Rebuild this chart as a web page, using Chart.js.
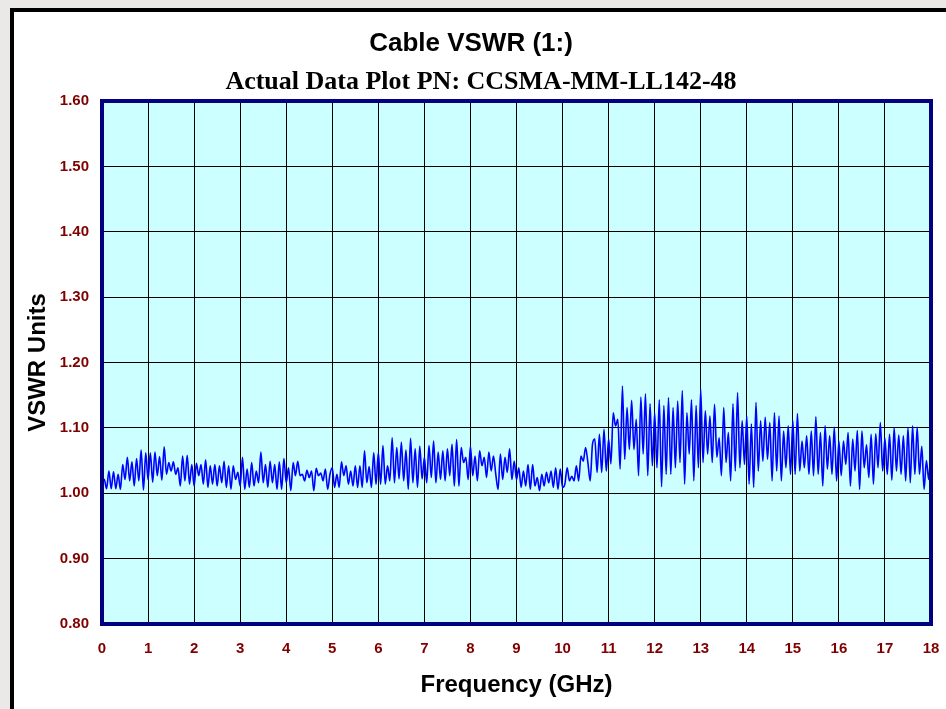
<!DOCTYPE html>
<html>
<head>
<meta charset="utf-8">
<script src="https://cdn.jsdelivr.net/npm/chart.js@4"></script>
<style>
  html, body { margin: 0; padding: 0; background: #ebe9e7; overflow: hidden; }
  canvas { display: block; }
</style>
</head>
<body>
<canvas id="vswrChart" width="946" height="709"></canvas>
<script>
const chartTitle = "Cable VSWR (1:)";
const chartSubtitle = "Actual Data Plot PN: CCSMA-MM-LL142-48";
const xAxisTitle = "Frequency (GHz)";
const yAxisTitle = "VSWR Units";

// sweep: 0 - 18 GHz, 361 points (one every 0.05 GHz)
const sweepStartGHz = 0;
const sweepStopGHz = 18;

const vswr = [
  1.022, 1.021, 1.007, 1.034, 1.007, 1.033, 1.007, 1.029, 1.006, 1.044,
  1.021, 1.055, 1.019, 1.048, 1.011, 1.053, 1.019, 1.066, 1.005, 1.062,
  1.021, 1.062, 1.017, 1.063, 1.027, 1.056, 1.020, 1.071, 1.029, 1.047,
  1.034, 1.048, 1.029, 1.039, 1.011, 1.057, 1.019, 1.058, 1.014, 1.044,
  1.011, 1.046, 1.027, 1.044, 1.014, 1.051, 1.009, 1.042, 1.014, 1.044,
  1.011, 1.042, 1.016, 1.049, 1.009, 1.042, 1.006, 1.042, 1.021, 1.032,
  1.011, 1.055, 1.006, 1.037, 1.009, 1.047, 1.011, 1.034, 1.016, 1.063,
  1.016, 1.044, 1.009, 1.049, 1.016, 1.044, 1.006, 1.048, 1.006, 1.053,
  1.016, 1.039, 1.004, 1.047, 1.027, 1.049, 1.027, 1.029, 1.019, 1.035,
  1.024, 1.034, 1.004, 1.038, 1.027, 1.031, 1.019, 1.037, 1.006, 1.029,
  1.039, 1.009, 1.029, 1.009, 1.048, 1.027, 1.042, 1.014, 1.034, 1.011,
  1.042, 1.009, 1.042, 1.009, 1.065, 1.016, 1.041, 1.009, 1.062, 1.014,
  1.062, 1.014, 1.073, 1.014, 1.042, 1.019, 1.085, 1.016, 1.070, 1.022,
  1.078, 1.019, 1.066, 1.006, 1.084, 1.016, 1.068, 1.009, 1.072, 1.022,
  1.055, 1.016, 1.073, 1.024, 1.080, 1.016, 1.063, 1.021, 1.065, 1.019,
  1.068, 1.027, 1.075, 1.011, 1.082, 1.011, 1.070, 1.047, 1.055, 1.021,
  1.072, 1.027, 1.057, 1.019, 1.065, 1.042, 1.055, 1.024, 1.063, 1.034,
  1.057, 1.029, 1.006, 1.060, 1.021, 1.055, 1.032, 1.068, 1.021, 1.049,
  1.021, 1.039, 1.009, 1.034, 1.011, 1.044, 1.006, 1.044, 1.011, 1.024,
  1.004, 1.029, 1.011, 1.032, 1.016, 1.034, 1.009, 1.039, 1.006, 1.037,
  1.009, 1.014, 1.039, 1.019, 1.026, 1.019, 1.042, 1.019, 1.057, 1.049,
  1.070, 1.047, 1.019, 1.075, 1.083, 1.032, 1.090, 1.032, 1.098, 1.034,
  1.083, 1.045, 1.123, 1.103, 1.113, 1.037, 1.164, 1.052, 1.131, 1.067,
  1.142, 1.067, 1.113, 1.027, 1.147, 1.060, 1.152, 1.027, 1.137, 1.042,
  1.123, 1.039, 1.143, 1.010, 1.134, 1.029, 1.146, 1.029, 1.131, 1.039,
  1.141, 1.047, 1.157, 1.014, 1.123, 1.060, 1.143, 1.019, 1.134, 1.039,
  1.159, 1.047, 1.126, 1.060, 1.118, 1.047, 1.136, 1.055, 1.085, 1.027,
  1.131, 1.047, 1.093, 1.019, 1.137, 1.034, 1.154, 1.039, 1.111, 1.044,
  1.118, 1.014, 1.106, 1.009, 1.139, 1.034, 1.111, 1.049, 1.116, 1.052,
  1.108, 1.019, 1.123, 1.034, 1.118, 1.019, 1.095, 1.039, 1.103, 1.029,
  1.111, 1.029, 1.122, 1.034, 1.080, 1.039, 1.088, 1.029, 1.095, 1.027,
  1.117, 1.029, 1.093, 1.011, 1.103, 1.037, 1.088, 1.029, 1.101, 1.019,
  1.080, 1.027, 1.080, 1.044, 1.093, 1.011, 1.083, 1.034, 1.096, 1.006,
  1.095, 1.039, 1.074, 1.024, 1.090, 1.014, 1.091, 1.039, 1.108, 1.034,
  1.084, 1.029, 1.090, 1.020, 1.100, 1.034, 1.089, 1.029, 1.088, 1.019,
  1.100, 1.016, 1.103, 1.029, 1.101, 1.029, 1.072, 1.006, 1.050, 1.021,
  1.077
];

const stepGHz = (sweepStopGHz - sweepStartGHz) / (vswr.length - 1);
const points = vswr.map((v, i) => ({ x: sweepStartGHz + i * stepGHz, y: v }));

const AXIS_RED = "#800000";
const SANS = "'Liberation Sans', Arial, sans-serif";
const SERIF = "'Liberation Serif', 'Times New Roman', serif";

// page frame, cyan plot fill, navy plot border and the two title lines
const framePlugin = {
  id: "frame",
  beforeDraw(chart) {
    const { ctx, chartArea: a, width, height } = chart;
    ctx.save();
    ctx.fillStyle = "#ebe9e7";
    ctx.fillRect(0, 0, width, height);
    ctx.fillStyle = "#ffffff";
    ctx.fillRect(14, 12, width - 14, height - 12);
    ctx.fillStyle = "#000000";
    ctx.fillRect(10, 8, 4, height - 8);
    ctx.fillRect(10, 8, width - 10, 4);
    ctx.fillStyle = "#ccffff";
    ctx.fillRect(a.left, a.top, a.right - a.left, a.bottom - a.top);
    ctx.restore();
  },
  afterDraw(chart) {
    const { ctx, chartArea: a } = chart;
    ctx.save();
    ctx.strokeStyle = "#000080";
    ctx.lineWidth = 4;
    ctx.strokeRect(a.left, a.top, a.right - a.left, a.bottom - a.top);

    ctx.fillStyle = "#000000";
    ctx.textAlign = "center";
    ctx.textBaseline = "alphabetic";
    ctx.font = `bold 26px ${SANS}`;
    ctx.fillText(chartTitle, 471, 51);
    ctx.font = `bold 26px ${SERIF}`;
    ctx.fillText(chartSubtitle, 481, 89);
    ctx.restore();
  },
};

new Chart(document.getElementById("vswrChart"), {
  type: "line",
  data: {
    datasets: [
      {
        data: points,
        borderColor: "#0000ff",
        borderWidth: 1.6,
        pointRadius: 0,
        cubicInterpolationMode: "monotone",
        fill: false,
      },
    ],
  },
  options: {
    responsive: false,
    animation: false,
    events: [],
    layout: { padding: { top: 101, right: 15, bottom: 0, left: 0 } },
    plugins: { legend: { display: false }, tooltip: { enabled: false } },
    scales: {
      x: {
        type: "linear",
        min: sweepStartGHz,
        max: sweepStopGHz,
        afterFit: (s) => {
          s.height = 85;
          s.paddingLeft = 0;
          s.paddingRight = 0;
        },
        grid: { color: "#000000", lineWidth: 1, drawTicks: false },
        border: { display: false },
        ticks: {
          stepSize: 1,
          padding: 16,
          color: AXIS_RED,
          font: { family: SANS, size: 15, weight: "bold" },
        },
        title: {
          display: true,
          text: xAxisTitle,
          color: "#000000",
          font: { family: SANS, size: 24, weight: "bold" },
          padding: { top: 0, bottom: 9 },
        },
      },
      y: {
        min: 0.8,
        max: 1.6,
        afterFit: (s) => { s.width = 102; },
        grid: { color: "#000000", lineWidth: 1, drawTicks: false },
        border: { display: false },
        ticks: {
          stepSize: 0.1,
          padding: 13,
          color: AXIS_RED,
          font: { family: SANS, size: 15, weight: "bold" },
          callback: (v) => Number(v).toFixed(2),
        },
        title: {
          display: true,
          text: yAxisTitle,
          color: "#000000",
          font: { family: SANS, size: 24, weight: "bold" },
          padding: { top: 24, bottom: 0 },
        },
      },
    },
  },
  plugins: [framePlugin],
});
</script>
</body>
</html>
